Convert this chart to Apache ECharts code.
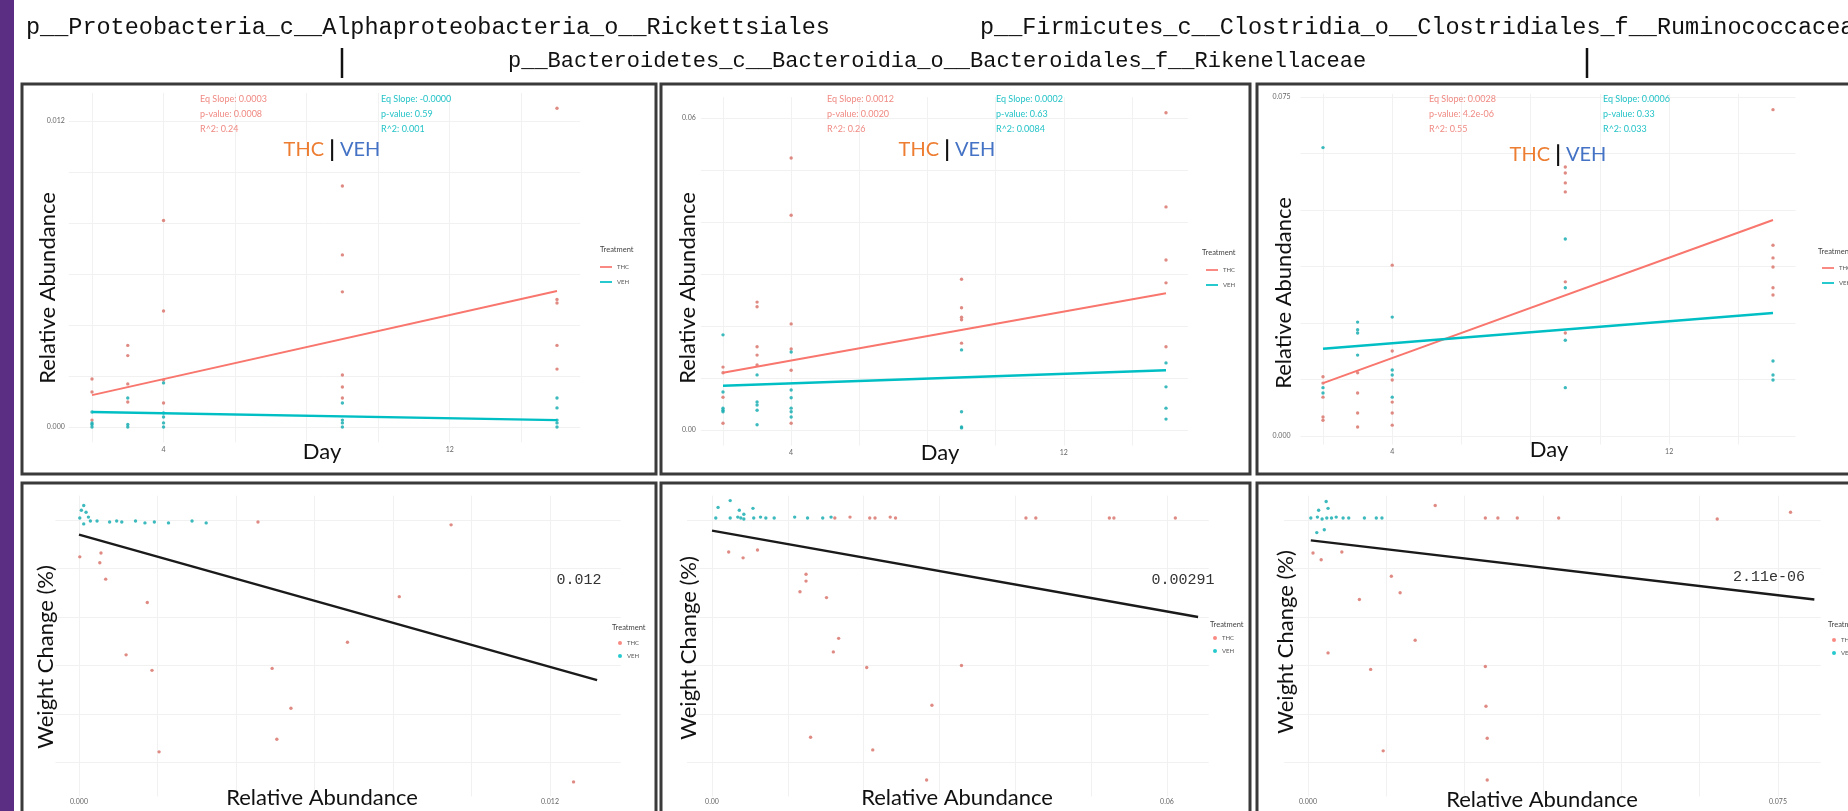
<!DOCTYPE html>
<html><head><meta charset="utf-8">
<script src="https://cdn.jsdelivr.net/npm/echarts@6/dist/echarts.min.js"></script>
<style>html,body{margin:0;padding:0;background:#fff}#c{width:1848px;height:811px}</style>
</head><body><div id="c"></div>
<script>
// ---------------- DATA ----------------
const dayValues = [2, 3, 4, 9, 15];
const fitDays = [2, 15];

// Rickettsiales: relative abundance by day
const rickTHC = [[0.00188,0.00137,0.00027],[0.0032,0.0028,0.00169,0.00098],[0.0081,0.00455,0.00184,0.00094],[0.00945,0.00675,0.0053,0.00204,0.00157,0.00114],[0.0125,0.0050,0.00486,0.0032,0.00227]];
const rickVEH = [[0.00059,0.00016,0,0.0001],[0.00114,0.0001,0],[0.00173,0.00055,0.00039,0.00016,0],[0.00094,0.00027,0.00016,0],[0.00114,0.00075,0.00027,0.00016,0]];
const rickFitTHC = [0.00125, 0.00533];
const rickFitVEH = [0.00059, 0.00027];

// Rikenellaceae
const rikTHC = [[0.0121,0.011,0.0013,0.0063],[0.0246,0.0237,0.016,0.0144,0.0125],[0.0523,0.0413,0.0204,0.0156,0.0115,0.0013],[0.029,0.0235,0.0217,0.0212,0.0167],[0.061,0.0429,0.0327,0.0283,0.016]];
const rikVEH = [[0.0183,0.0073,0.0042,0.0038,0.0035],[0.0106,0.0054,0.0048,0.0038,0.001],[0.015,0.0077,0.0062,0.0042,0.0035,0.0025],[0.0154,0.0035,0.0006,0.0004],[0.0129,0.0083,0.0042,0.0021]];
const rikFitTHC = [0.011, 0.0263];
const rikFitVEH = [0.0085, 0.0115];

// Ruminococcaceae
const rumTHC = [[0.0131,0.0117,0.0042,0.0035,0.0086],[0.014,0.0095,0.0051,0.002],[0.0378,0.0188,0.0124,0.0075,0.0051,0.0024],[0.0595,0.0582,0.056,0.054,0.0341,0.0228],[0.0722,0.0422,0.0394,0.0374,0.0328,0.0312]];
const rumVEH = [[0.0638,0.0107,0.0095],[0.0252,0.0235,0.0228,0.0179],[0.0263,0.0146,0.0135,0.0086],[0.0436,0.0328,0.0212,0.0107],[0.0166,0.0135,0.0124]];
const rumFitTHC = [0.0117, 0.0478];
const rumFitVEH = [0.0193, 0.0272];

// Weight change (%) vs relative abundance
const rickWtVEH = [[0.00002,0.2],[0.00012,1.5],[0.00018,0.8],[0.00024,0.3],[0.00029,-0.1],[0.00012,-0.4],[0.00046,-0.1],[0.00006,1.0],[0.00078,-0.2],[0.00096,-0.1],[0.00109,-0.2],[0.00144,-0.1],[0.00168,-0.3],[0.00192,-0.2],[0.00228,-0.3],[0.00288,-0.1],[0.00324,-0.3]];
const rickWtTHC = [[0.00456,-0.2],[0.00948,-0.5],[0.00002,-3.8],[0.00056,-3.4],[0.00053,-4.4],[0.00068,-6.1],[0.00174,-8.5],[0.00816,-7.9],[0.00684,-12.6],[0.0012,-13.9],[0.00186,-15.5],[0.00492,-15.3],[0.0054,-19.4],[0.00504,-22.6],[0.00204,-23.9],[0.0126,-27.0]];
const rickWtFit = [[0,-1.5],[0.0132,-16.5]];
const rickWtP = '0.012';

const rikWtVEH = [[0.0005,0.2],[0.0008,1.3],[0.0024,2.0],[0.0024,0.2],[0.0036,1.0],[0.0034,0.3],[0.0038,0.2],[0.0042,0.1],[0.0042,0.6],[0.0054,1.2],[0.0055,0.2],[0.0064,0.3],[0.0071,0.2],[0.0082,0.2],[0.0109,0.3],[0.0126,0.2],[0.0146,0.2],[0.0157,0.3]];
const rikWtTHC = [[0.0162,0.2],[0.0182,0.3],[0.0208,0.2],[0.0215,0.2],[0.0235,0.3],[0.0242,0.2],[0.0414,0.2],[0.0427,0.2],[0.0524,0.2],[0.053,0.2],[0.0611,0.2],[0.0022,-3.3],[0.0041,-3.9],[0.006,-3.1],[0.0124,-5.6],[0.0124,-6.3],[0.0116,-7.4],[0.0151,-8.0],[0.0167,-12.2],[0.016,-13.6],[0.0204,-15.2],[0.0329,-15.0],[0.029,-19.1],[0.013,-22.4],[0.0212,-23.7],[0.0283,-26.8]];
const rikWtFit = [[0,-1.1],[0.0641,-10.0]];
const rikWtP = '0.00291';

const rumWtVEH = [[0.00045,0.2],[0.0015,0.3],[0.00225,0.1],[0.003,0.2],[0.00375,0.2],[0.0045,0.3],[0.0056,0.2],[0.0065,0.2],[0.0029,1.9],[0.0032,1.2],[0.0017,1.0],[0.0014,-1.3],[0.0026,-1.0],[0.009,0.2],[0.0109,0.2],[0.0118,0.2]];
const rumWtTHC = [[0.0203,1.5],[0.0283,0.2],[0.0303,0.2],[0.0334,0.2],[0.04,0.2],[0.0653,0.1],[0.077,0.8],[0.0008,-3.4],[0.0021,-4.1],[0.0054,-3.3],[0.0082,-8.2],[0.0133,-5.8],[0.0147,-7.5],[0.0171,-12.4],[0.0032,-13.7],[0.01,-15.4],[0.0283,-15.1],[0.0284,-19.2],[0.0286,-22.5],[0.012,-23.8],[0.0286,-26.8]];
const rumWtFit = [[0.00045,-2.1],[0.0808,-8.2]];
const rumWtP = '2.11e-06';

// Tick / grid values
const dayGrid = [2,4,6,8,10,12,14];
const dayLabels = [4,12];
const wtGrid = [-25,-20,-15,-10,-5,0];

// Texts
const taxa = ['p__Proteobacteria_c__Alphaproteobacteria_o__Rickettsiales','p__Bacteroidetes_c__Bacteroidia_o__Bacteroidales_f__Rikenellaceae','p__Firmicutes_c__Clostridia_o__Clostridiales_f__Ruminococcaceae'];
const statsTHC = ['Eq Slope: 0.0003\np-value: 0.0008\nR^2: 0.24','Eq Slope: 0.0012\np-value: 0.0020\nR^2: 0.26','Eq Slope: 0.0028\np-value: 4.2e-06\nR^2: 0.55'];
const statsVEH = ['Eq Slope: -0.0000\np-value: 0.59\nR^2: 0.001','Eq Slope: 0.0002\np-value: 0.63\nR^2: 0.0084','Eq Slope: 0.0006\np-value: 0.33\nR^2: 0.033'];

// ---------------- STYLE / LAYOUT ----------------
const THC = '#F8766D', VEH = '#00BFC4', GRIDC = '#f1f1f1';
const THC_PT = '#d9776f', VEH_PT = '#1aaeb2';
function pairs(days, groups){ const out=[]; groups.forEach((g,i)=>g.forEach(v=>out.push([days[i], v]))); return out; }
function span(a, r){ const s=(a[3]-a[1])/(a[2]-a[0]); const p=v=>a[1]+(v-a[0])*s; return [p(r[0]), p(r[1])]; }

const panels = [
 {x:[2,92,15,557], xr:[1.35,15.65], y:[0,427,0.012,121], yr:[-0.0006,0.0131], xg:dayGrid, xl:dayLabels, xd:0, yg:[0,0.002,0.004,0.006,0.008,0.010,0.012], yl:[0,0.012], yd:3, ym:4, xm:4},
 {x:[2,723,15,1166], xr:[1.35,15.65], y:[0,430,0.06,118], yr:[-0.003,0.064], xg:dayGrid, xl:dayLabels, xd:0, yg:[0,0.01,0.02,0.03,0.04,0.05,0.06], yl:[0,0.06], yd:2, ym:5, xm:4},
 {x:[2,1323,15,1773], xr:[1.35,15.65], y:[0,436,0.075,97], yr:[-0.0019,0.0757], xg:dayGrid, xl:dayLabels, xd:0, yg:[0,0.0125,0.025,0.0375,0.05,0.0625,0.075], yl:[0,0.075], yd:3, ym:10, xm:4},
 {x:[0,79,0.012,550], xr:[-0.0006,0.0138], y:[0,520,-10,617], yr:[-28.5,2.5], xg:[0,0.002,0.004,0.006,0.008,0.010,0.012], xl:[0,0.012], xd:3, yg:wtGrid, yl:[], yd:0, ym:4, xm:2},
 {x:[0,712,0.06,1167], xr:[-0.0033,0.0655], y:[0,520,-10,617], yr:[-28.5,2.5], xg:[0,0.01,0.02,0.03,0.04,0.05,0.06], xl:[0,0.06], xd:2, yg:wtGrid, yl:[], yd:0, ym:4, xm:2},
 {x:[0,1308,0.075,1778], xr:[-0.0038,0.0818], y:[0,520,-10,617], yr:[-28.5,2.5], xg:[0,0.0125,0.025,0.0375,0.05,0.0625,0.075], xl:[0,0.075], xd:3, yg:wtGrid, yl:[], yd:0, ym:4, xm:2}
];

const option = {animation:false, backgroundColor:'#fff', textStyle:{fontFamily:'Lato'}, grid:[], xAxis:[], yAxis:[], series:[], legend:[], graphic:{elements:[]}};

panels.forEach((p,i)=>{
  const [xl,xr] = span(p.x,p.xr);
  const [yb,yt] = span(p.y,p.yr);
  option.grid.push({left:xl, top:yt, width:xr-xl, height:yb-yt, containLabel:false, outerBoundsMode:'none'});
  const lab = {fontSize:7, color:'#666', fontFamily:'Lato'};
  option.xAxis.push({type:'value', gridIndex:i, min:p.xr[0], max:p.xr[1],
    axisLine:{show:false}, axisTick:{show:false, customValues:p.xg},
    splitLine:{show:true, lineStyle:{color:GRIDC, width:1}},
    axisLabel:Object.assign({customValues:p.xl, margin:p.xm, formatter:v=>Number(v).toFixed(p.xd), show:p.xl.length>0}, lab)});
  option.yAxis.push({type:'value', gridIndex:i, min:p.yr[0], max:p.yr[1],
    axisLine:{show:false}, axisTick:{show:false, customValues:p.yg},
    splitLine:{show:true, lineStyle:{color:GRIDC, width:1}},
    axisLabel:Object.assign({customValues:p.yl.length?p.yl:[0], margin:p.ym, formatter:v=>Number(v).toFixed(p.yd), show:p.yl.length>0}, lab)});
});

function scatter(name, data, idx, color){
  return {type:'scatter', name, data, xAxisIndex:idx, yAxisIndex:idx, symbol:'circle', symbolSize:3.4, z:2,
    itemStyle:{color, opacity:0.85}, silent:true};
}
function fitLine(name, data, idx, color, w){
  return {type:'line', name, data, xAxisIndex:idx, yAxisIndex:idx, showSymbol:false, symbol:'none', z:3,
    lineStyle:{color, width:w}, itemStyle:{color}, silent:true};
}
const fitPairs = f => fitDays.map((d,i)=>[d,f[i]]);

// top row
[[rickTHC,rickVEH,rickFitTHC,rickFitVEH],[rikTHC,rikVEH,rikFitTHC,rikFitVEH],[rumTHC,rumVEH,rumFitTHC,rumFitVEH]].forEach((s,i)=>{
  option.series.push(scatter('THC', pairs(dayValues,s[0]), i, THC_PT));
  option.series.push(scatter('VEH', pairs(dayValues,s[1]), i, VEH_PT));
  option.series.push(fitLine('THC', fitPairs(s[2]), i, THC, 2));
  option.series.push(fitLine('VEH', fitPairs(s[3]), i, VEH, 2.4));
});
// bottom row
[[rickWtTHC,rickWtVEH,rickWtFit],[rikWtTHC,rikWtVEH,rikWtFit],[rumWtTHC,rumWtVEH,rumWtFit]].forEach((s,j)=>{
  const i = j+3;
  option.series.push(scatter('THC', s[0], i, THC_PT));
  option.series.push(scatter('VEH', s[1], i, VEH_PT));
  option.series.push(fitLine('fit', s[2], i, '#1a1a1a', 2.4));
});

// legends
const legTop = [[600,264],[1206,267],[1822,265]];
const legBot = [[618,640],[1213,635],[1832,637]];
legTop.forEach(p=>option.legend.push({show:true, orient:'vertical', left:p[0], top:p[1], padding:0, itemWidth:12, itemHeight:2, itemGap:9, icon:'rect', selectedMode:false,
  textStyle:{fontSize:6, color:'#555', fontFamily:'Lato'}, data:[{name:'THC', itemStyle:{color:THC}},{name:'VEH', itemStyle:{color:VEH}}]}));
legBot.forEach(p=>option.legend.push({show:true, orient:'vertical', left:p[0], top:p[1], padding:0, itemWidth:4, itemHeight:4, itemGap:7, icon:'circle', selectedMode:false,
  textStyle:{fontSize:6, color:'#555', fontFamily:'Lato'}, data:[{name:'THC', itemStyle:{color:THC}},{name:'VEH', itemStyle:{color:VEH}}]}));

// decorations and texts
const G = option.graphic.elements;
function txt(t, x, y, o){ o=o||{}; G.push({type:'text', x, y, rotation:o.rot||0, z:100, silent:true,
  style:{text:t, x:0, y:0, font:o.font||'22px Lato', fill:o.fill||'#111', align:o.align||'center', verticalAlign:o.va||'middle', textAlign:o.align||'center', textVerticalAlign:o.va||'middle', lineHeight:o.lh, rich:o.rich}}); }

G.push({type:'rect', shape:{x:0,y:0,width:14,height:811}, style:{fill:'#5c2e83'}, silent:true, z:100});
txt(taxa[0], 26, 28, {font:"23.5px 'Liberation Mono'", align:'left'});
txt(taxa[2], 980, 28, {font:"23.5px 'Liberation Mono'", align:'left'});
txt(taxa[1], 508, 61, {font:"22px 'Liberation Mono'", align:'left'});
G.push({type:'line', shape:{x1:342,y1:48,x2:342,y2:78}, style:{stroke:'#111', lineWidth:2.5}, silent:true, z:100});
G.push({type:'line', shape:{x1:1587,y1:48,x2:1587,y2:78}, style:{stroke:'#111', lineWidth:2.5}, silent:true, z:100});

// frames
const colsX = [[22,656],[661,1250],[1257,1862]];
const rowsY = [[84,474],[483,822]];
rowsY.forEach(r=>colsX.forEach(c=>G.push({type:'rect', shape:{x:c[0],y:r[0],width:c[1]-c[0],height:r[1]-r[0]}, style:{fill:'none', stroke:'#3a3a3a', lineWidth:3}, silent:true, z:101})));

// top panel texts
const thcVeh = {font:'20px Lato', rich:{a:{fill:'#ed7d31', fontSize:20, fontFamily:'Lato'}, b:{fill:'#111', fontSize:22, fontFamily:'Lato', fontWeight:'bold'}, c:{fill:'#4472c4', fontSize:20, fontFamily:'Lato'}}};
[[332,150],[947,150],[1558,155]].forEach(p=>txt('{a|THC} {b||} {c|VEH}', p[0], p[1], thcVeh));
[[200,381],[827,996],[1429,1603]].forEach((p,i)=>{
  txt(statsTHC[i], p[0], 92, {font:'9px Lato', fill:'#f08a83', align:'left', va:'top', lh:15});
  txt(statsVEH[i], p[1], 92, {font:'9px Lato', fill:'#25c3c7', align:'left', va:'top', lh:15});
});
[[48,288],[688,288],[1284,293]].forEach(p=>txt('Relative Abundance', p[0], p[1], {rot:Math.PI/2}));
[[322,452],[940,453],[1549,450]].forEach(p=>txt('Day', p[0], p[1]));
[[600,250],[1202,253],[1818,252],[612,628],[1210,625],[1828,625]].forEach(p=>txt('Treatment', p[0], p[1], {font:'7.5px Lato', fill:'#444', align:'left'}));

// bottom panel texts
[[46,657],[689,648],[1286,642]].forEach(p=>txt('Weight Change (%)', p[0], p[1], {rot:Math.PI/2}));
[[322,798],[957,798],[1542,800]].forEach(p=>txt('Relative Abundance', p[0], p[1]));
txt(rickWtP, 579, 580, {font:"15px 'Liberation Mono'", fill:'#333'});
txt(rikWtP, 1183, 580, {font:"15px 'Liberation Mono'", fill:'#333'});
txt(rumWtP, 1769, 577, {font:"15px 'Liberation Mono'", fill:'#333'});

const chart = echarts.init(document.getElementById('c'), null, {renderer:'canvas'});
chart.setOption(option);
</script>
</body></html>
